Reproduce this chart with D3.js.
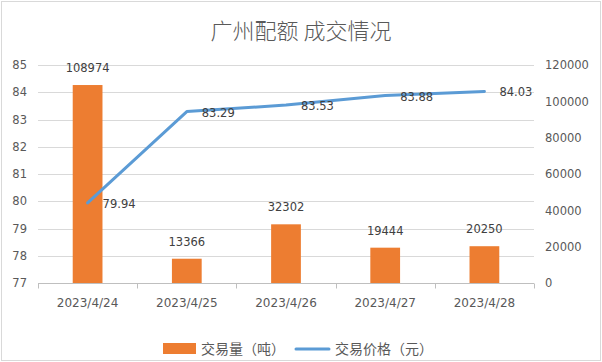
<!DOCTYPE html>
<meta charset="utf-8">
<script src="https://d3js.org/d3.v7.min.js"></script>
<style>
  body { margin: 0; background: #fff; }
  text { font-family: "DejaVu Sans", sans-serif; }
  .cjk { font-family: "Noto Sans CJK SC", sans-serif; }
</style>
<div id="chart"></div>
<script>
  // data
  var dates = ["2023/4/24", "2023/4/25", "2023/4/26", "2023/4/27", "2023/4/28"];
  var volume = [108974, 13366, 32302, 19444, 20250];
  var price = [79.94, 83.29, 83.53, 83.88, 84.03];
  var priceTicks = [77, 78, 79, 80, 81, 82, 83, 84, 85];
  var volumeTicks = [0, 20000, 40000, 60000, 80000, 100000, 120000];

  var W = 602, H = 362;
  var margin = { top: 65, right: 68, bottom: 79, left: 38 },
    width = W - margin.left - margin.right,
    height = H - margin.top - margin.bottom;

  var svg = d3.select("#chart").append("svg")
    .attr("width", W)
    .attr("height", H);

  // outer border
  svg.append("rect")
    .attr("x", 1.5).attr("y", 1.5)
    .attr("width", W - 3).attr("height", H - 3)
    .attr("fill", "#fff")
    .attr("stroke", "#d9d9d9");

  // title
  svg.append("text")
    .attr("class", "cjk")
    .attr("x", W / 2)
    .attr("y", 39)
    .attr("text-anchor", "middle")
    .style("font-size", "22px")
    .style("font-weight", 300)
    .style("fill", "#595959")
    .text("广州配额 成交情况");

  var g = svg.append("g")
    .attr("transform", "translate(" + margin.left + "," + margin.top + ")");

  var x = d3.scaleBand()
    .domain(dates)
    .range([0, width])
    .paddingInner(0.7)
    .paddingOuter(0.35);

  var yL = d3.scaleLinear().domain([77, 85]).range([height, 0]);
  var yR = d3.scaleLinear().domain([0, 120000]).range([height, 0]);

  // gridlines
  g.append("g")
    .selectAll("line")
    .data(priceTicks.slice(1))
    .enter()
    .append("line")
    .attr("x1", 0).attr("x2", width)
    .attr("y1", function (d) { return Math.round(yL(d)) + 0.5; })
    .attr("y2", function (d) { return Math.round(yL(d)) + 0.5; })
    .attr("stroke", "#d9d9d9");

  // left axis
  var leftAxis = g.append("g")
    .call(d3.axisLeft(yL).tickValues(priceTicks).tickSize(0).tickPadding(11));
  leftAxis.select(".domain").remove();
  leftAxis.selectAll("text").style("font-size", "11.5px").style("fill", "#595959");

  // right axis
  var rightAxis = g.append("g")
    .attr("transform", "translate(" + width + ",0)")
    .call(d3.axisRight(yR).tickValues(volumeTicks).tickFormat(d3.format("d")).tickSize(0).tickPadding(11));
  rightAxis.select(".domain").remove();
  rightAxis.selectAll("text").style("font-size", "11.5px").style("fill", "#595959");

  // bars
  g.append("g")
    .selectAll("rect")
    .data(volume)
    .enter()
    .append("rect")
    .attr("x", function (d, i) { return x(dates[i]); })
    .attr("y", function (d) { return yR(d); })
    .attr("width", x.bandwidth())
    .attr("height", function (d) { return height - yR(d); })
    .attr("fill", "#ed7d31");

  // bottom axis with ticks between categories
  var bottom = g.append("g").attr("transform", "translate(0," + (Math.round(height) + 0.5) + ")");
  bottom.append("line")
    .attr("x1", 0).attr("x2", width)
    .attr("stroke", "#bfbfbf");
  bottom.selectAll(".tk")
    .data(d3.range(dates.length + 1))
    .enter()
    .append("line")
    .attr("x1", function (i) { return Math.round(i * width / dates.length) + 0.5; })
    .attr("x2", function (i) { return Math.round(i * width / dates.length) + 0.5; })
    .attr("y1", 0).attr("y2", 5)
    .attr("stroke", "#bfbfbf");
  bottom.selectAll(".lbl")
    .data(dates)
    .enter()
    .append("text")
    .attr("x", function (d) { return x(d) + x.bandwidth() / 2; })
    .attr("y", 23)
    .attr("text-anchor", "middle")
    .style("font-size", "12px")
    .style("fill", "#595959")
    .text(function (d) { return d; });

  // bar labels
  g.append("g")
    .selectAll("text")
    .data(volume)
    .enter()
    .append("text")
    .attr("x", function (d, i) { return x(dates[i]) + x.bandwidth() / 2; })
    .attr("y", function (d) { return yR(d) - 13; })
    .attr("text-anchor", "middle")
    .style("font-size", "11.5px")
    .style("fill", "#404040")
    .text(function (d) { return d; });

  // price line
  var line = d3.line()
    .x(function (d, i) { return x(dates[i]) + x.bandwidth() / 2; })
    .y(function (d) { return yL(d); });
  g.append("path")
    .datum(price)
    .attr("d", line)
    .attr("fill", "none")
    .attr("stroke", "#5b9bd5")
    .attr("stroke-width", 3)
    .attr("stroke-linecap", "round")
    .attr("stroke-linejoin", "round");

  // line labels
  g.append("g")
    .selectAll("text")
    .data(price)
    .enter()
    .append("text")
    .attr("x", function (d, i) { return x(dates[i]) + x.bandwidth() / 2 + 15; })
    .attr("y", function (d) { return yL(d) + 5; })
    .style("font-size", "11.5px")
    .style("fill", "#404040")
    .text(function (d) { return d.toFixed(2); });

  // legend
  var lg = svg.append("g").attr("transform", "translate(0,349)");
  lg.append("rect")
    .attr("x", 163).attr("y", -6)
    .attr("width", 33).attr("height", 11)
    .attr("fill", "#ed7d31");
  lg.append("text")
    .attr("class", "cjk")
    .attr("x", 201).attr("y", 5)
    .style("font-size", "14px")
    .style("fill", "#595959")
    .text("交易量（吨）");
  lg.append("line")
    .attr("x1", 296).attr("x2", 329)
    .attr("y1", 0).attr("y2", 0)
    .attr("stroke", "#5b9bd5")
    .attr("stroke-width", 3)
    .attr("stroke-linecap", "round");
  lg.append("text")
    .attr("class", "cjk")
    .attr("x", 335).attr("y", 5)
    .style("font-size", "14px")
    .style("fill", "#595959")
    .text("交易价格（元）");
</script>
